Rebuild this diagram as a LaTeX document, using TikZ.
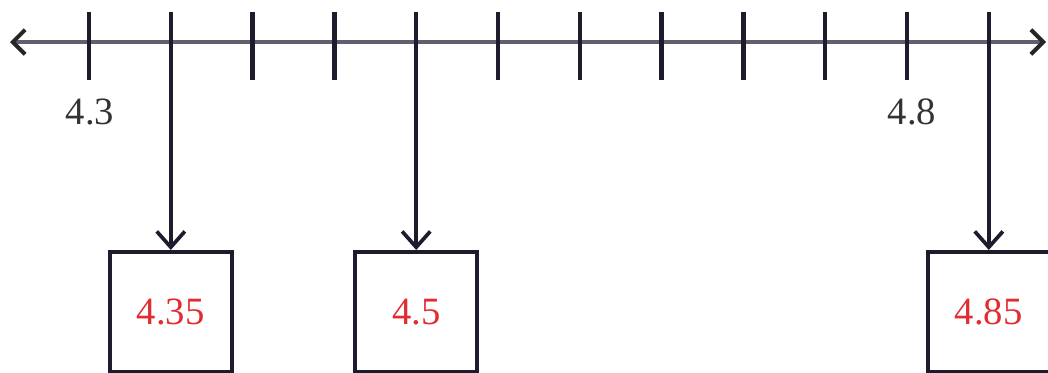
\documentclass[tikz,border=0pt]{standalone}
\usepackage{fontspec}
\setmainfont{Liberation Serif}
\usetikzlibrary{arrows.meta, positioning, calc}
\definecolor{axisgray}{RGB}{95,95,110}
\definecolor{inkdark}{RGB}{28,28,44}
\definecolor{valred}{RGB}{225,45,50}

\begin{document}
\begin{tikzpicture}[
  x=0.02cm, y=-0.02cm,
  axis/.style={draw=axisgray, line width=2.3pt},
  tickmark/.style={draw=inkdark, line width=2.5pt},
  pointer/.style={draw=inkdark, line width=2.1pt,
                  -{Straight Barb[length=9pt, width=16pt, line width=2.1pt]}},
  valbox/.style={draw=inkdark, line width=2.3pt, fill=white,
                 minimum width=2.45cm, minimum height=2.4cm, inner sep=0pt,
                 text=valred, font=\fontsize{22}{26}\selectfont},
  ticklbl/.style={font=\fontsize{22}{26}\selectfont, text=black!80}
]
\useasboundingbox (0,0) rectangle (1048,372);

\def\xzero{89}   % x of 4.3
\def\xstep{81.8} % one step of 0.05

% --- Number line ---
\coordinate (L) at (10,42);
\coordinate (R) at (1046,42);
\draw[axis, {Straight Barb[length=7pt, width=14pt, color=black!85]}-{Straight Barb[length=7pt, width=14pt, color=black!85]}] (L) -- (R);

% --- Tick marks (pointers sit at 1, 4 and 11) ---
\foreach \i in {0,...,11}{
  \pgfmathsetmacro\xpos{\xzero+\i*\xstep}
  \coordinate (T\i) at (\xpos,12);
  \coordinate (S\i) at (\xpos,80);
}
\foreach \i in {0,2,3,5,6,7,8,9,10}{
  \draw[tickmark] (T\i) -- (S\i);
}

% --- Tick labels ---
\node[ticklbl] (lblA) at (90,112) {4.3};
\node[ticklbl] (lblB) at (912,112) {4.8};

% --- Value boxes ---
\node[valbox] (B1) at ($(T1)+(0,300)$) {4.35};
\node[valbox] (B4) at ($(T4)+(0,300)$) {4.5};
\node[valbox] (B11) at ($(T11)+(0,300)$) {4.85};

% --- Pointers ---
\foreach \i in {1,4,11}{
  \draw[pointer] (T\i) -- (B\i.north);
}

\end{tikzpicture}
\end{document}
